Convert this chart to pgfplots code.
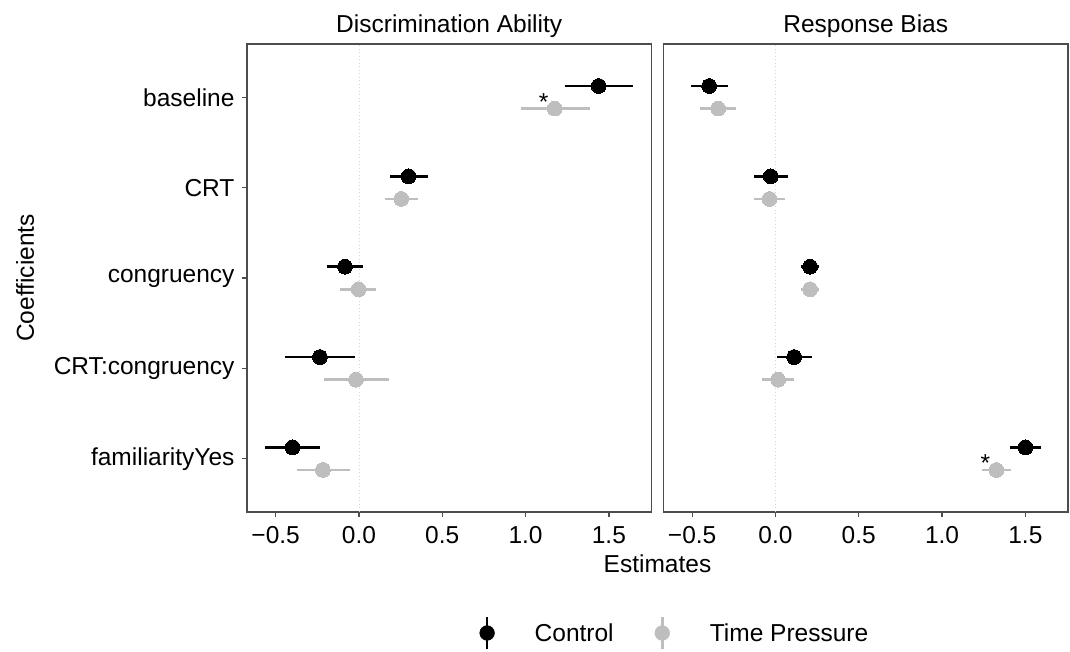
\documentclass[border=0pt]{standalone}
\usepackage{pgfplots}
\pgfplotsset{compat=1.18}
\usepackage{pgfplotstable}
\usepackage{fontspec}
\setmainfont{Liberation Sans}
\definecolor{tpgrey}{HTML}{BEBEBE}
\definecolor{frame}{HTML}{4D4D4D}
\definecolor{zero}{HTML}{D4D4D4}

% pos = row (+0.125 control, -0.125 time pressure), est, lo, hi
\pgfplotstableread{
pos    est     lo      hi
5.125  1.439   1.235   1.647
4.125  0.298   0.184   0.412
3.125  -0.084  -0.192  0.022
2.125  -0.234  -0.442  -0.024
1.125  -0.398  -0.564  -0.232
}\discCtrl
\pgfplotstableread{
pos    est     lo      hi
4.875  1.175   0.971   1.385
3.875  0.254   0.156   0.356
2.875  -0.002  -0.112  0.104
1.875  -0.018  -0.210  0.178
0.875  -0.216  -0.372  -0.052
}\discTP
\pgfplotstableread{
pos    est     lo      hi
5.125  -0.398  -0.506  -0.286
4.125  -0.028  -0.130  0.076
3.125  0.208   0.155   0.262
2.125  0.112   0.008   0.218
1.125  1.500   1.410   1.592
}\biasCtrl
\pgfplotstableread{
pos    est     lo      hi
4.875  -0.344  -0.454  -0.234
3.875  -0.036  -0.130  0.060
2.875  0.208   0.155   0.262
1.875  0.016   -0.080  0.114
0.875  1.326   1.240   1.414
}\biasTP

\newcommand{\bigfont}{\fontsize{24.5}{29}\selectfont}

\pgfplotsset{
  panel/.style={
    scale only axis, width=404.5pt, height=468pt,
    xmin=-0.672, xmax=1.756, ymin=0.41, ymax=5.59,
    xtick={-0.5,0,0.5,1,1.5},
    xticklabels={−0.5,0.0,0.5,1.0,1.5},
    axis line style={frame, line width=1.3pt},
    every tick/.style={frame, line width=1.3pt},
    tick align=outside, major tick length=5pt,
    xtick pos=bottom, ytick pos=left,
    tick label style={font=\bigfont, text=black},
    xticklabel style={yshift=-6pt},
    yticklabel style={xshift=-4pt},
    title style={font=\bigfont, at={(0.5,1)}, anchor=base, yshift=5pt},
    font=\bigfont,
  },
  ctrl/.style={only marks, mark=*, mark size=7.4pt,
    mark options={fill=black, draw=black, line width=0pt},
    error bars/x dir=both, error bars/x explicit, error bars/error mark=none,
    error bars/error bar style={line width=2.6pt, black}},
  tp/.style={only marks, mark=*, mark size=7.4pt,
    mark options={fill=tpgrey, draw=tpgrey, line width=0pt},
    error bars/x dir=both, error bars/x explicit, error bars/error mark=none,
    error bars/error bar style={line width=2.6pt, tpgrey}},
}

\begin{document}
\begin{tikzpicture}[font=\bigfont]
\fill[white] (-247pt,-140pt) rectangle (823pt,512pt);
\useasboundingbox (-247pt,-140pt) rectangle (823pt,512pt);

\begin{axis}[panel,
  title={Discrimination Ability},
  ytick={1,2,3,4,5},
  yticklabels={familiarityYes,CRT:congruency,congruency,CRT,baseline},
  legend columns=2,
  legend style={at={(232.5/404.5,-121/468)}, anchor=west, draw=none, fill=none,
    inner sep=0pt, outer sep=0pt, font=\bigfont,
    nodes={inner sep=0pt},
    /tikz/every odd column/.append style={column sep=40pt},
    /tikz/every even column/.append style={column sep=41pt}},
]
\addplot[zero, line width=0.8pt, dash pattern=on 1pt off 2.5pt, forget plot] coordinates {(0,0.41) (0,5.59)};
\addplot[ctrl, legend image code/.code={\draw[black, line width=2.6pt] (0pt,-16pt) -- (0pt,16pt); \fill[black] (0pt,0pt) circle (7.4pt);}]
  table[x=est, y=pos, x error plus expr=\thisrow{hi}-\thisrow{est}, x error minus expr=\thisrow{est}-\thisrow{lo}] {\discCtrl};
\addlegendentry{Control}
\addplot[tp, legend image code/.code={\draw[tpgrey, line width=2.6pt] (0pt,-16pt) -- (0pt,16pt); \fill[tpgrey] (0pt,0pt) circle (7.4pt);}]
  table[x=est, y=pos, x error plus expr=\thisrow{hi}-\thisrow{est}, x error minus expr=\thisrow{est}-\thisrow{lo}] {\discTP};
\addlegendentry{Time Pressure}
\node[anchor=base, inner sep=0pt] at (axis cs:1.109,4.856) {*};
\end{axis}

\begin{axis}[panel, at={(416.5pt,0pt)},
  title={Response Bias},
  ytick=\empty,
]
\addplot[zero, line width=0.8pt, dash pattern=on 1pt off 2.5pt, forget plot] coordinates {(0,0.41) (0,5.59)};
\addplot[ctrl]
  table[x=est, y=pos, x error plus expr=\thisrow{hi}-\thisrow{est}, x error minus expr=\thisrow{est}-\thisrow{lo}] {\biasCtrl};
\addplot[tp]
  table[x=est, y=pos, x error plus expr=\thisrow{hi}-\thisrow{est}, x error minus expr=\thisrow{est}-\thisrow{lo}] {\biasTP};
\node[anchor=base, inner sep=0pt] at (axis cs:1.26,0.853) {*};
\end{axis}

\node[anchor=base] at (410.5pt,-60.3pt) {Estimates};
\node[rotate=90, anchor=center] at (-222pt,234pt) {Coefficients};
\end{tikzpicture}
\end{document}
